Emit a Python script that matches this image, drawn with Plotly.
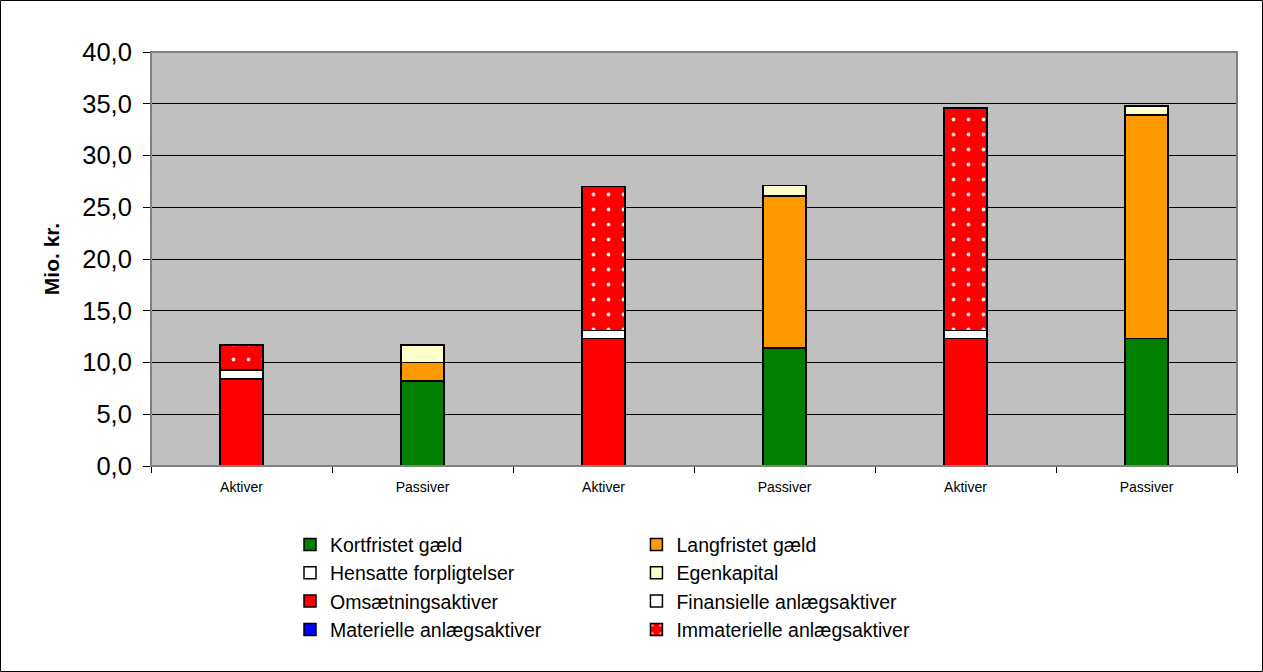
import plotly.graph_objects as go

# positions on the x axis and their labels
positions = [0, 1, 2, 3, 4, 5]
tick_labels = ['Aktiver', 'Passiver', 'Aktiver', 'Passiver', 'Aktiver', 'Passiver']

# Passiver (mio. kr.)
kortfristet = [None, 8.2, None, 11.4, None, 12.3]
langfristet = [None, 1.8, None, 14.7, None, 21.6]
hensatte = [None, None, None, None, None, None]
egenkapital = [None, 1.7, None, 1.0, None, 0.9]

# Aktiver (mio. kr.)
omsaetning = [8.4, None, 12.3, None, 12.3, None]
finansielle = [0.9, None, 0.8, None, 0.8, None]
materielle = [None, None, None, None, None, None]
immaterielle = [2.4, None, 13.9, None, 21.5, None]

FONT = 'Arial, Liberation Sans, sans-serif'

# name, values, colour, legend column
series = [
    ('Kortfristet gæld', kortfristet, '#008000', 'legend'),
    ('Langfristet gæld', langfristet, '#FF9900', 'legend2'),
    ('Hensatte forpligtelser', hensatte, '#FFFFFF', 'legend'),
    ('Egenkapital', egenkapital, '#FFFFCC', 'legend2'),
    ('Omsætningsaktiver', omsaetning, '#FF0000', 'legend'),
    ('Finansielle anlægsaktiver', finansielle, '#FFFFFF', 'legend2'),
    ('Materielle anlægsaktiver', materielle, '#0000FF', 'legend'),
    ('Immaterielle anlægsaktiver', immaterielle, '#FF0000', 'legend2'),
]

traces = []
for name, vals, col, leg in series:
    marker = dict(color=col, line=dict(color='black', width=1.5))
    if name.startswith('Immaterielle'):
        marker['pattern'] = dict(shape='.', fgcolor='#FFE4E4', bgcolor='#FF0000',
                                 size=15, solidity=0.05, fillmode='replace')
    traces.append(go.Bar(x=positions, y=vals, name=name, marker=marker,
                         width=0.24, legend=leg))

fig = go.Figure(data=traces)

legend_style = dict(orientation='v', yanchor='top', xanchor='left', y=-0.143,
                    traceorder='normal', font=dict(size=19.5, family=FONT),
                    bgcolor='rgba(0,0,0,0)', itemwidth=30, tracegroupgap=0)

fig.update_layout(
    barmode='stack',
    width=1263, height=672,
    autosize=False,
    separators=',.',
    paper_bgcolor='white',
    plot_bgcolor='#C0C0C0',
    font=dict(family=FONT, color='black'),
    margin=dict(l=151, r=26, t=52, b=206, autoexpand=False),
    legend=dict(x=0.128, **legend_style),
    legend2=dict(x=0.447, **legend_style),
    showlegend=True,
)

fig.update_xaxes(
    range=[-0.5, 5.5],
    tickvals=positions, ticktext=tick_labels,
    tickfont=dict(size=14, family=FONT),
    ticks='', ticklabelstandoff=8,
    minor=dict(tick0=0.5, dtick=1, ticks='outside', ticklen=6, tickcolor='black'),
    showgrid=False, zeroline=False,
    showline=True, linecolor='black', linewidth=1,
)

fig.update_yaxes(
    range=[0, 40], dtick=5, tickformat='.1f',
    tickfont=dict(size=25.5, family=FONT),
    ticks='outside', ticklen=7, tickcolor='black',
    ticklabelstandoff=6,
    showgrid=True, gridcolor='black', gridwidth=1,
    zeroline=False,
    showline=True, linecolor='black', linewidth=1,
    title=dict(text='<b>Mio. kr.</b>', font=dict(size=21, family=FONT), standoff=16),
)

# gray frame around the plot area
fig.add_shape(type='rect', xref='paper', yref='paper', x0=0, x1=1, y0=0, y1=1,
              line=dict(color='#808080', width=2), layer='above')
# thin black border around the whole chart
fig.add_shape(type='rect', xref='paper', yref='paper',
              x0=-150.5 / 1086, x1=1 + 25.5 / 1086, y0=-205.5 / 414, y1=1 + 51.5 / 414,
              line=dict(color='black', width=1))

fig.write_html("out.html", config={'displayModeBar': False},
               post_script="document.body.style.margin='0';")
